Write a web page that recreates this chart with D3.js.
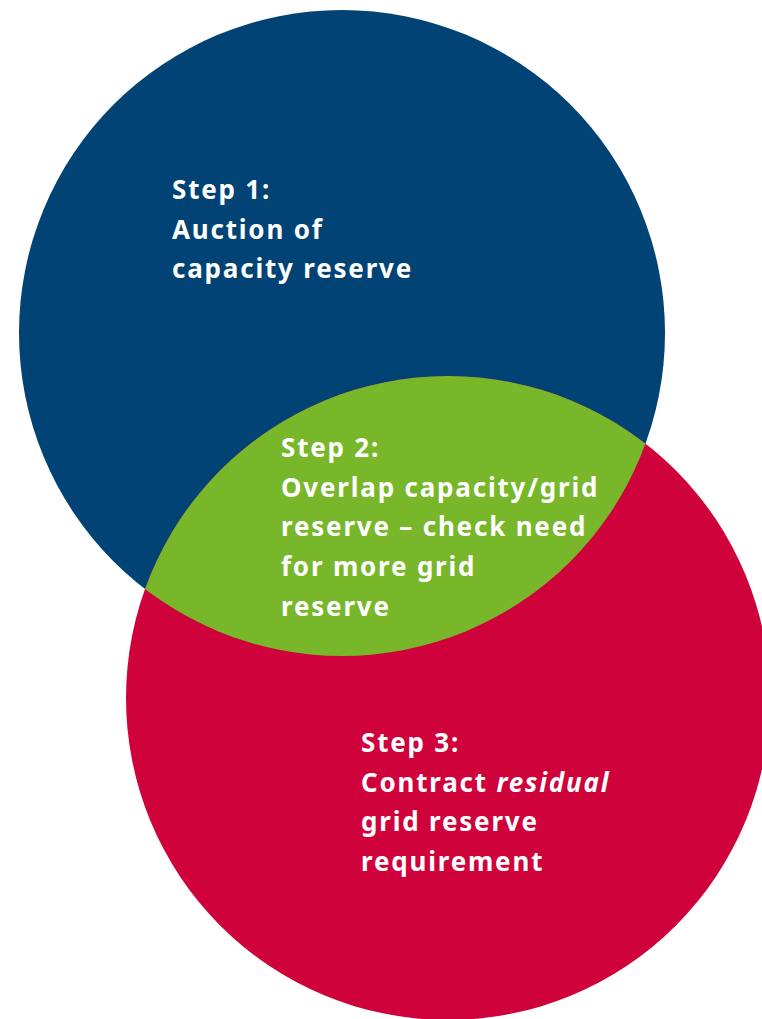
<!DOCTYPE html>
<html>
<head>
  <meta charset="utf-8">
  <script src="https://cdn.jsdelivr.net/npm/d3@7"></script>
  <style>
    html, body { margin: 0; padding: 0; background: #fff; }
    svg { display: block; }
    .label { font-family: "Noto Sans", "Open Sans", sans-serif; font-weight: 700; fill: #fff; }
  </style>
</head>
<body>
  <script type="text/javascript">
    // the three steps, one text block each (lines, italic words marked with *...*)
    var steps = ["Step 1:", "Step 2:", "Step 3:"];
    var stepLines = [
      ["Auction of", "capacity reserve"],
      ["Overlap capacity/grid", "reserve \u2013 check need", "for more grid", "reserve"],
      ["Contract *residual*", "grid reserve", "requirement"]
    ];
    var stepColors = ["#004374", "#78b72a", "#d0023c"];

    var width = 762, height = 1019;

    var svg = d3.select("body").append("svg")
        .attr("width", width)
        .attr("height", height);

    // circle layout (capacity reserve = top, grid reserve = bottom)
    var circles = [
      {id: "capacity", cx: 342, cy: 333, r: 323, color: stepColors[0]},
      {id: "grid",     cx: 448, cy: 698, r: 322, color: stepColors[2]}
    ];

    svg.append("defs").append("clipPath")
        .attr("id", "clipTop")
      .append("circle")
        .attr("cx", circles[0].cx)
        .attr("cy", circles[0].cy)
        .attr("r", circles[0].r);

    svg.selectAll("circle.set")
        .data(circles)
      .enter().append("circle")
        .attr("class", "set")
        .attr("cx", function(d) { return d.cx; })
        .attr("cy", function(d) { return d.cy; })
        .attr("r", function(d) { return d.r; })
        .style("fill", function(d) { return d.color; });

    // overlap: bottom circle clipped by the top one
    svg.append("circle")
        .attr("cx", circles[1].cx)
        .attr("cy", circles[1].cy)
        .attr("r", circles[1].r)
        .attr("clip-path", "url(#clipTop)")
        .style("fill", stepColors[1]);

    // text blocks
    var anchors = [{x: 172, y: 199}, {x: 281, y: 457}, {x: 361, y: 752}];
    var lineH = 39.7;

    steps.forEach(function(step, i) {
      var lines = [step].concat(stepLines[i]);
      var t = svg.append("text")
          .attr("class", "label")
          .attr("x", anchors[i].x)
          .attr("y", anchors[i].y)
          .style("font-size", "26px")
          .style("letter-spacing", "1.8px");

      lines.forEach(function(line, j) {
        var parts = line.split("*");
        parts.forEach(function(p, k) {
          if (p === "") return;
          var ts = t.append("tspan").text(p);
          if (k === 0) ts.attr("x", anchors[i].x).attr("y", anchors[i].y + j * lineH);
          if (k % 2 === 1) ts.style("font-style", "italic");
        });
      });
    });
  </script>
</body>
</html>
